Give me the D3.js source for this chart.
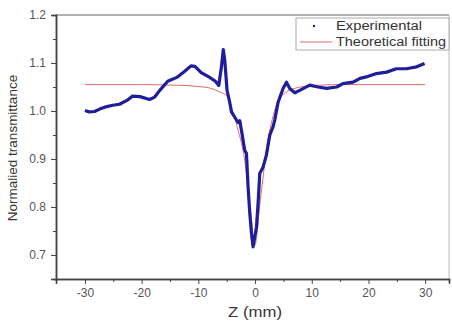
<!DOCTYPE html>
<html><head><meta charset="utf-8">
<script src="https://cdn.jsdelivr.net/npm/d3@7"></script>
<style>body{margin:0;background:#fff}svg{display:block}</style>
</head><body>
<script>
const expZ = [-30.0,-29.2,-28.3,-27.4,-26.5,-25.1,-23.9,-22.6,-21.6,-20.3,-18.6,-17.7,-16.8,-15.4,-13.8,-12.4,-11.3,-10.6,-9.5,-8.0,-7.0,-6.4,-5.95,-5.6,-5.34,-4.94,-4.5,-4.16,-3.58,-3.0,-2.7,-2.4,-1.82,-1.52,-1.23,-0.93,-0.63,-0.35,0.25,0.53,0.83,1.41,2.0,2.6,3.17,3.47,4.06,4.94,5.54,6.12,7.0,7.88,9.65,11.1,12.6,14.4,15.5,17.3,18.5,19.6,21.4,23.2,24.9,26.7,28.5,29.9];
const expT = [1.001,0.998,0.999,1.004,1.008,1.012,1.014,1.022,1.031,1.030,1.024,1.029,1.043,1.062,1.070,1.083,1.094,1.093,1.080,1.070,1.062,1.053,1.090,1.128,1.106,1.043,1.020,0.998,0.987,0.976,0.980,0.960,0.918,0.912,0.842,0.787,0.745,0.717,0.758,0.807,0.870,0.883,0.908,0.950,0.967,0.981,1.018,1.047,1.060,1.047,1.038,1.043,1.054,1.050,1.047,1.050,1.057,1.060,1.068,1.071,1.078,1.081,1.088,1.088,1.092,1.099];
const fitZ = [-30,-20,-15,-12,-10,-8,-6.3,-4.8,-3.9,-3.0,-2.0,-1.2,-0.6,-0.2,0,0.3,0.8,1.4,2.0,2.6,3.2,4.0,5.0,6.5,8.0,10,15,30];
const fitT = [1.055,1.055,1.054,1.053,1.051,1.048,1.040,1.029,0.998,0.960,0.910,0.840,0.770,0.725,0.720,0.740,0.800,0.860,0.920,0.960,0.990,1.020,1.035,1.045,1.050,1.053,1.055,1.055];
const xTicks = [-30,-20,-10,0,10,20,30];
const yTicks = [0.7,0.8,0.9,1.0,1.1,1.2];
const legendLabels = ["Experimental","Theoretical fitting"];

const W=452,H=322;
const svg=d3.select("body").append("svg").attr("width",W).attr("height",H);
const L=56,R=449,T=15,B=279;
const x=d3.scaleLinear().domain([-35.1,34.2]).range([L,R]);
const y=d3.scaleLinear().domain([0.65,1.2]).range([B,T]);
const font="Arial, 'Liberation Sans', sans-serif";

// frame top/right
svg.append("line").attr("x1",L).attr("x2",R).attr("y1",T).attr("y2",T).attr("stroke","#999").attr("stroke-width",1.5);
svg.append("line").attr("x1",R).attr("x2",R).attr("y1",T).attr("y2",B).attr("stroke","#bbb").attr("stroke-width",1);

// axes
const fmtX = d => String(d);
const xMinor=d3.range(-25,35,10);
const yMinor=d3.range(0.75,1.2,0.1);
svg.append("g").attr("transform",`translate(0,${B})`)
  .call(d3.axisBottom(x).tickValues(xMinor).tickSize(3).tickFormat(""));
svg.append("g").attr("transform",`translate(0,${B})`)
  .call(d3.axisBottom(x).tickValues(xTicks).tickSize(5).tickPadding(4).tickFormat(fmtX));
svg.append("g").attr("transform",`translate(${L},0)`)
  .call(d3.axisLeft(y).tickValues(yMinor).tickSize(3).tickFormat(""));
svg.append("g").attr("transform",`translate(${L},0)`)
  .call(d3.axisLeft(y).tickValues(yTicks).tickSize(5).tickPadding(5).tickFormat(d=>d.toFixed(1)));
svg.selectAll(".domain").attr("stroke","#444").attr("stroke-width",1.5);
svg.selectAll(".tick line").attr("stroke","#444");
svg.selectAll(".tick text").attr("font-family",font).attr("font-size",12).attr("fill","#555");

// fit line
svg.append("path").datum(fitZ.map((z,i)=>[z,fitT[i]]))
  .attr("fill","none").attr("stroke","#e06a6a").attr("stroke-width",1)
  .attr("d",d3.line().x(d=>x(d[0])).y(d=>y(d[1])).curve(d3.curveMonotoneX));

// experimental
const expData=expZ.map((z,i)=>[z,expT[i]]);
svg.append("path").datum(expData)
  .attr("fill","none").attr("stroke","#1e1e9c").attr("stroke-width",3.2).attr("stroke-linejoin","round")
  .attr("d",d3.line().x(d=>x(d[0])).y(d=>y(d[1])));

// labels
svg.append("text").attr("x",228).attr("y",317)
  .attr("font-family",font).attr("font-size",14).attr("fill","#333")
  .attr("textLength",54).attr("lengthAdjust","spacingAndGlyphs").text("Z (mm)");
svg.append("text").attr("transform","translate(17,148) rotate(-90)").attr("text-anchor","middle")
  .attr("font-family",font).attr("font-size",13.5).attr("fill","#333").text("Normalied transmittance");

// legend
const lg=svg.append("g");
lg.append("rect").attr("x",296).attr("y",18).attr("width",153).attr("height",32)
  .attr("fill","#fff").attr("stroke","#aaa").attr("stroke-width",1);
lg.append("circle").attr("cx",314).attr("cy",26).attr("r",1.2).attr("fill","#1e1e9c");
lg.append("line").attr("x1",300).attr("x2",332).attr("y1",42).attr("y2",42).attr("stroke","#e06a6a").attr("stroke-width",1);
const lens=[86,110];
lg.selectAll("text.lg").data(legendLabels).enter().append("text")
  .attr("x",336).attr("y",(d,i)=>30+i*16).attr("font-family",font).attr("font-size",12.5).attr("fill","#333")
  .attr("textLength",(d,i)=>lens[i]).attr("lengthAdjust","spacingAndGlyphs").text(d=>d);
</script>
</body></html>
